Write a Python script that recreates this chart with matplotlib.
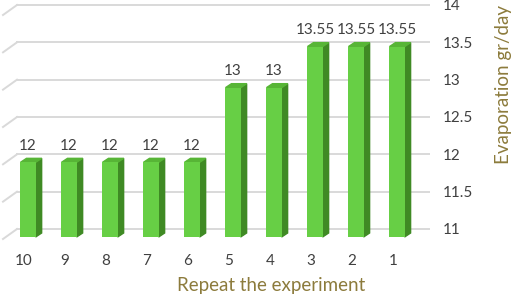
import numpy as np
import matplotlib
matplotlib.use("Agg")
import matplotlib.pyplot as plt
from matplotlib.patches import Polygon
from matplotlib.lines import Line2D
from matplotlib.transforms import ScaledTranslation

# data
runs = ["10", "9", "8", "7", "6", "5", "4", "3", "2", "1"]
evaporation = [12, 12, 12, 12, 12, 13, 13, 13.55, 13.55, 13.55]
value_labels = ["12", "12", "12", "12", "12", "13", "13", "13.55", "13.55", "13.55"]
yticks = [11, 11.5, 12, 12.5, 13, 13.5, 14]

FRONT = "#67cf45"
SIDE = "#3f8a24"
TOP = "#57b536"
GRID = "#d9d9d9"
OLIVE = "#8c7b3c"
TEXT = "#404040"

plt.rcParams["font.family"] = ["Lato", "DejaVu Sans"]

fig = plt.figure(figsize=(5.12, 2.95), dpi=100)
ax = fig.add_axes([17 / 512, 1 - 229 / 295, 412 / 512, 224 / 295])

x = np.arange(len(runs))
ax.set_xlim(-0.27, 9.78)
ax.set_ylim(11, 14)

# pixels per data unit (figure size is fixed)
ppx = 412 / (9.78 + 0.27)
ppy = 224 / 3.0
drop = 8 / ppy          # bars stand in front of the back wall
dx, dy = 6 / ppx, 4 / ppy  # depth of the 3d faces
w = 0.37

# back-wall gridlines with the short slanted side-wall piece
for t in yticks:
    ax.axhline(t, color=GRID, lw=1.4, zorder=0, clip_on=False)
    ax.add_line(Line2D([-0.27 - 14 / ppx, -0.27], [t - 10 / ppy, t],
                       color=GRID, lw=1.4, zorder=0, clip_on=False))

bottom = 11 - drop
ax.bar(x, [v - 11 for v in evaporation], bottom=bottom, width=w,
       color=FRONT, zorder=3, clip_on=False)
for xi, v in zip(x, evaporation):
    top = v - drop
    x1 = xi + w / 2
    x0 = xi - w / 2
    ax.add_patch(Polygon([(x1, bottom), (x1, top), (x1 + dx, top + dy), (x1 + dx, bottom + dy)],
                         closed=True, color=SIDE, zorder=2, clip_on=False))
    ax.add_patch(Polygon([(x0, top), (x1, top), (x1 + dx, top + dy), (x0 + dx, top + dy)],
                         closed=True, color=TOP, zorder=2, clip_on=False))

for xi, v, lab in zip(x, evaporation, value_labels):
    ax.annotate(lab, (xi, v), xytext=(0, 6.3), textcoords="offset points",
                ha="center", va="center", fontsize=11, color=TEXT)

ax.set_xticks(x)
ax.set_xticklabels(runs)
ax.set_yticks(yticks)
ax.set_yticklabels(["11", "11.5", "12", "12.5", "13", "13.5", "14"])
ax.yaxis.tick_right()
ax.tick_params(axis="y", length=0, pad=10, labelsize=11, labelcolor=TEXT)
ax.tick_params(axis="x", length=0, pad=18, labelsize=11, labelcolor=TEXT)
for lab in ax.get_yticklabels():
    lab.set_horizontalalignment("left")
shift = ScaledTranslation(-4 / 100, 0, fig.dpi_scale_trans)
for lab in ax.get_xticklabels():
    lab.set_transform(lab.get_transform() + shift)
for s in ax.spines.values():
    s.set_visible(False)
ax.set_facecolor("none")

fig.text(271 / 512, 1 - 285 / 295, "Repeat the experiment", color=OLIVE,
         fontsize=13.5, ha="center", va="center")
fig.text(503 / 512, 1 - 84 / 295, "Evaporation gr/day", color=OLIVE,
         fontsize=13.5, ha="center", va="center", rotation=90)

fig.savefig("out.png", dpi=100)
